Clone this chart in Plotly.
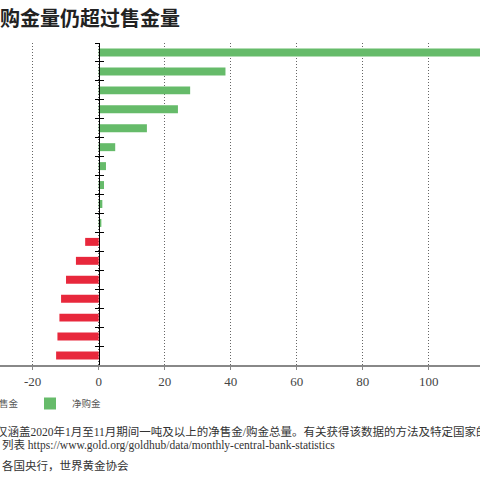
import plotly.graph_objects as go

# countries are cropped out of the reference, so placeholder names (labels hidden)
buyers = ['买入国1', '买入国2', '买入国3', '买入国4', '买入国5',
          '买入国6', '买入国7', '买入国8', '买入国9', '买入国10']
buy_tonnes = [122, 38.4, 27.7, 24.0, 14.6, 5.0, 2.2, 1.6, 1.1, 0.8]

sellers = ['售出国1', '售出国2', '售出国3', '售出国4', '售出国5', '售出国6', '售出国7']
sell_tonnes = [-4.1, -6.9, -9.9, -11.4, -11.9, -12.5, -12.9]

tick_vals = [-20, 0, 20, 40, 60, 80, 100]
tick_text = ['-20', '0', '20', '40', '60', '80', '100']

title = '购金量仍超过售金量'
note1 = '仅涵盖2020年1月至11月期间一吨及以上的净售金/购金总量。有关获得该数据的方法及特定国家的'
note2 = '列表 https://www.gold.org/goldhub/data/monthly-central-bank-statistics'
note3 = '各国央行，世界黄金协会'

green = '#66BB6A'
red = '#E8283C'
serif = 'Liberation Serif, Noto Sans CJK SC'
cjk = 'Noto Sans CJK SC'

W, H = 480, 480
mt, mb = 43, 115
x_range = [-29.9, 115.5]
y_pos = (0 - x_range[0]) / (x_range[1] - x_range[0])
plot_h = H - mt - mb

categories = buyers + sellers


def px_x(p):
    return p / W


def px_y(p):
    return (H - mb - p) / plot_h


fig = go.Figure()
fig.add_trace(go.Bar(x=sell_tonnes, y=sellers, orientation='h', name='售金',
                     marker=dict(color=red, line=dict(width=0)), yaxis='y2'))
fig.add_trace(go.Bar(x=buy_tonnes, y=buyers, orientation='h', name='净购金',
                     marker=dict(color=green, line=dict(width=0)), yaxis='y'))

yax = dict(type='category', categoryorder='array', categoryarray=categories,
           range=[len(categories) - 0.5, -0.5], tickson='boundaries',
           ticklen=4, tickwidth=1.3, tickcolor='black', showline=True,
           linecolor='black', linewidth=1.3, showgrid=False,
           showticklabels=False, anchor='free', position=y_pos)

fig.update_layout(
    width=W, height=H,
    margin=dict(l=0, r=0, t=mt, b=mb, autoexpand=False),
    paper_bgcolor='white', plot_bgcolor='white',
    bargap=0.58, barmode='overlay',
    xaxis=dict(range=x_range, tickvals=tick_vals, ticktext=tick_text,
               ticks='outside', ticklen=3, tickcolor='#888', tickwidth=1,
               showline=True, linecolor='#888', linewidth=2,
               showgrid=True, gridcolor='#666', gridwidth=1, griddash='1px,2px',
               zeroline=False,
               tickfont=dict(family=serif, size=13, color='#444')),
    yaxis=dict(yax, ticks='outside'),
    yaxis2=dict(yax, ticks='inside', overlaying='y', side='left'),
    legend=dict(orientation='h', x=px_x(-45), xanchor='left',
                y=px_y(389), yanchor='top', traceorder='normal',
                font=dict(family=cjk, size=9.5, color='#555'),
                itemwidth=34, entrywidth=24, bgcolor='rgba(0,0,0,0)'),
    font=dict(family=serif),
)

fig.add_annotation(text='<b>' + title + '</b>', xref='paper', yref='paper',
                   x=px_x(-2), y=px_y(18), xanchor='left', yanchor='middle',
                   showarrow=False,
                   font=dict(family=cjk, size=20, color='#222'))

for text, x0, yc in [(note1, -6, 431), (note2, 0, 445), (note3, 0, 465)]:
    fig.add_annotation(text=text, xref='paper', yref='paper',
                       x=px_x(x0), y=px_y(yc), xanchor='left', yanchor='middle',
                       showarrow=False,
                       font=dict(family=serif, size=11.5, color='#333'))

# page body margin would otherwise push the 480px figure off the window
fig.write_html('out.html', config={'displayModeBar': False},
               post_script="document.body.style.margin='0';")
